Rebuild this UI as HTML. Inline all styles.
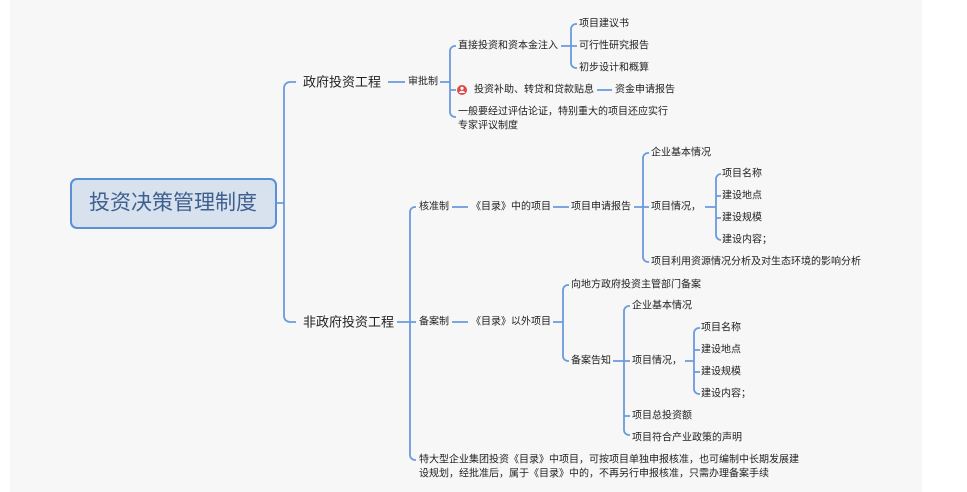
<!DOCTYPE html>
<html><head><meta charset="utf-8"><style>
html,body{margin:0;padding:0;background:#fff;width:967px;height:492px;overflow:hidden}
svg{display:block}
text{font-family:"Liberation Sans","Noto Sans CJK SC",sans-serif;fill:#222;font-size:10px;dominant-baseline:central}
.l{fill:none;stroke:#6b9ade;stroke-width:1.8}
.b{font-size:13px}
</style></head><body>
<svg width="967" height="492" viewBox="0 0 967 492">
<rect x="10" y="0" width="912" height="492" fill="#f7f7f7"/>
<rect x="71" y="179" width="205" height="49" rx="6" fill="#d7e2ee" stroke="#5b8fd6" stroke-width="2"/>
<text x="173" y="203" text-anchor="middle" style="font-size:21px;fill:#3f5f8f">投资决策管理制度</text>
<path class="l" d="M276 203H284M296 82h-6a6 6 0 0 0-6 6V316a6 6 0 0 0 6 6h6"/>
<text class="b" x="303" y="82">政府投资工程</text>
<text class="b" x="303" y="322">非政府投资工程</text>
<path class="l" d="M388 82H405M440 82H450M456 46h-1a5 5 0 0 0-5 5V112a5 5 0 0 0 5 5h1M450 90h6"/>
<text x="408" y="82">审批制</text>
<text x="458" y="46">直接投资和资本金注入</text>
<path class="l" d="M561 46H571M577 24h-1a5 5 0 0 0-5 5V63a5 5 0 0 0 5 5h1M571 46h6"/>
<text x="579" y="24">项目建议书</text>
<text x="579" y="46">可行性研究报告</text>
<text x="579" y="68">初步设计和概算</text>
<circle cx="462" cy="90" r="5" fill="#e04848"/>
<circle cx="462" cy="88.3" r="1.6" fill="#fff"/>
<path d="M459 93a3 2.2 0 0 1 6 0z" fill="#fff"/>
<text x="474" y="90">投资补助、转贷和贷款贴息</text>
<path class="l" d="M597 90H612"/>
<text x="615" y="90">资金申请报告</text>
<text x="458" y="112">一般要经过评估论证，特别重大的项目还应实行</text>
<text x="458" y="126">专家评议制度</text>
<path class="l" d="M397 322H410M416 207h-1a5 5 0 0 0-5 5V455a5 5 0 0 0 5 5h1M410 322h6"/>
<text x="419" y="207">核准制</text>
<path class="l" d="M452 207H468M553 207H569M634 207H643M649 153h-1a5 5 0 0 0-5 5V257a5 5 0 0 0 5 5h1M643 207h6"/>
<text x="471" y="207">《目录》中的项目</text>
<text x="571" y="207">项目申请报告</text>
<text x="651" y="153">企业基本情况</text>
<text x="651" y="207">项目情况，</text>
<text x="651" y="262">项目利用资源情况分析及对生态环境的影响分析</text>
<path class="l" d="M705 207H716M721 174h-0a5 5 0 0 0-5 5V235a5 5 0 0 0 5 5h0M716 196h5M716 218h5"/>
<text x="722" y="174">项目名称</text>
<text x="722" y="196">建设地点</text>
<text x="722" y="218">建设规模</text>
<text x="722" y="240">建设内容；</text>
<text x="419" y="322">备案制</text>
<path class="l" d="M452 322H468M553 322H563M569 285h-1a5 5 0 0 0-5 5V356a5 5 0 0 0 5 5h1"/>
<text x="471" y="322">《目录》以外项目</text>
<text x="571" y="285">向地方政府投资主管部门备案</text>
<text x="571" y="361">备案告知</text>
<path class="l" d="M613 361H624M630 306h-1a5 5 0 0 0-5 5V430a5 5 0 0 0 5 5h1M624 361h6M624 416h6"/>
<text x="632" y="306">企业基本情况</text>
<text x="632" y="361">项目情况，</text>
<text x="632" y="416">项目总投资额</text>
<text x="632" y="438">项目符合产业政策的声明</text>
<path class="l" d="M685 361H694M700 328h-1a5 5 0 0 0-5 5V389a5 5 0 0 0 5 5h1M694 350h6M694 372h6"/>
<text x="701" y="328">项目名称</text>
<text x="701" y="350">建设地点</text>
<text x="701" y="372">建设规模</text>
<text x="701" y="394">建设内容；</text>
<text x="419" y="460">特大型企业集团投资《目录》中项目，可按项目单独申报核准，也可编制中长期发展建</text>
<text x="419" y="474">设规划，经批准后，属于《目录》中的，不再另行申报核准，只需办理备案手续</text>
</svg>
</body></html>
